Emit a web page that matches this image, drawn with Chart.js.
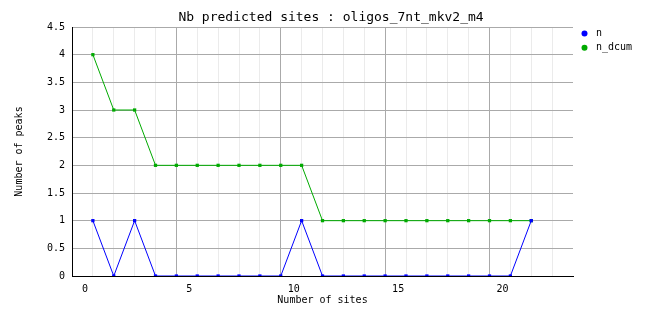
<!DOCTYPE html>
<html>
<head>
<meta charset="utf-8">
<script src="https://cdn.jsdelivr.net/npm/chart.js@4/dist/chart.umd.min.js"></script>
<style>
  html, body { margin: 0; padding: 0; background: #fff; }
  #wrap { width: 662px; height: 328px; }
</style>
</head>
<body>
<div id="wrap"><canvas id="chart" width="662" height="328"></canvas></div>
<script>
// number of sites (x) and the two series
const sites = [1, 2, 3, 4, 5, 6, 7, 8, 9, 10, 11, 12, 13, 14, 15, 16, 17, 18, 19, 20, 21, 22];
const nValues = [1, 0, 1, 0, 0, 0, 0, 0, 0, 0, 1, 0, 0, 0, 0, 0, 0, 0, 0, 0, 0, 1];
const nDcumValues = [4, 3, 3, 2, 2, 2, 2, 2, 2, 2, 2, 1, 1, 1, 1, 1, 1, 1, 1, 1, 1, 1];
const seriesNames = ['n', 'n_dcum'];
const seriesColors = ['#0000ff', '#00aa00'];
const chartTitle = 'Nb predicted sites : oligos_7nt_mkv2_m4';

const MONO = "'DejaVu Sans Mono', 'Liberation Mono', monospace";

function toPoints(vals) {
    return sites.map(function(s, i) { return { x: s, y: vals[i] }; });
}

// title + legend drawn by hand (the built-in ones can't be placed like the original)
const titleLegend = {
    id: 'titleLegend',
    afterDraw(chart) {
        const ctx = chart.ctx;
        ctx.save();
        ctx.fillStyle = '#000';
        ctx.font = '13px ' + MONO;
        ctx.textAlign = 'center';
        ctx.textBaseline = 'middle';
        ctx.fillText(chartTitle, 331, 18);

        ctx.font = '10px ' + MONO;
        ctx.textAlign = 'left';
        chart.data.datasets.forEach(function(ds, i) {
            const y = 33.5 + i * 14.3;
            ctx.fillStyle = ds.borderColor;
            ctx.beginPath();
            ctx.arc(584.5, y, 3, 0, Math.PI * 2);
            ctx.fill();
            ctx.fillStyle = '#000';
            ctx.fillText(ds.label, 596, y);
        });
        ctx.restore();
    }
};

new Chart(document.getElementById('chart'), {
    type: 'line',
    data: {
        datasets: [
            {
                label: seriesNames[0],
                data: toPoints(nValues),
                borderColor: seriesColors[0],
                backgroundColor: seriesColors[0],
                borderWidth: 1,
                pointStyle: 'rect',
                pointRadius: 2.3,
                pointBorderWidth: 0,
                tension: 0
            },
            {
                label: seriesNames[1],
                data: toPoints(nDcumValues),
                borderColor: seriesColors[1],
                backgroundColor: seriesColors[1],
                borderWidth: 1,
                pointStyle: 'rect',
                pointRadius: 2.3,
                pointBorderWidth: 0,
                tension: 0
            }
        ]
    },
    options: {
        responsive: false,
        animation: false,
        layout: { padding: { top: 27, right: 89, left: 0, bottom: 0 } },
        plugins: {
            legend: { display: false },
            title: { display: false },
            tooltip: { enabled: false }
        },
        scales: {
            x: {
                type: 'linear',
                min: 0,
                max: 24,
                afterFit: function(s) { s.height = 52; },
                ticks: {
                    stepSize: 1,
                    autoSkip: false,
                    maxRotation: 0,
                    padding: 7,
                    labelOffset: 13,
                    color: '#000',
                    font: { family: MONO, size: 10 },
                    callback: function(v) { return v % 5 === 0 && v < 24 ? String(v) : ''; }
                },
                grid: {
                    drawTicks: false,
                    lineWidth: 1,
                    color: function(c) {
                        const v = c.tick ? c.tick.value : 0;
                        if (v >= 24) return 'rgba(0,0,0,0)';
                        return v % 5 === 0 ? '#aaaaaa' : '#ebebeb';
                    }
                },
                border: { color: '#000', width: 1 },
                title: {
                    display: true,
                    text: 'Number of sites',
                    color: '#000',
                    font: { family: MONO, size: 10 },
                    padding: { top: 0, bottom: 22 }
                }
            },
            y: {
                min: 0,
                max: 4.5,
                afterFit: function(s) { s.width = 72; },
                ticks: {
                    stepSize: 0.5,
                    padding: 7,
                    color: '#000',
                    font: { family: MONO, size: 10 },
                    callback: function(v) { return String(Math.round(v * 10) / 10); }
                },
                grid: {
                    drawTicks: false,
                    lineWidth: 1,
                    color: '#aaaaaa'
                },
                border: { color: '#000', width: 1 },
                title: {
                    display: true,
                    text: 'Number of peaks',
                    color: '#000',
                    font: { family: MONO, size: 10 },
                    padding: { top: 13, bottom: 0 }
                }
            }
        }
    },
    plugins: [titleLegend]
});
</script>
</body>
</html>
